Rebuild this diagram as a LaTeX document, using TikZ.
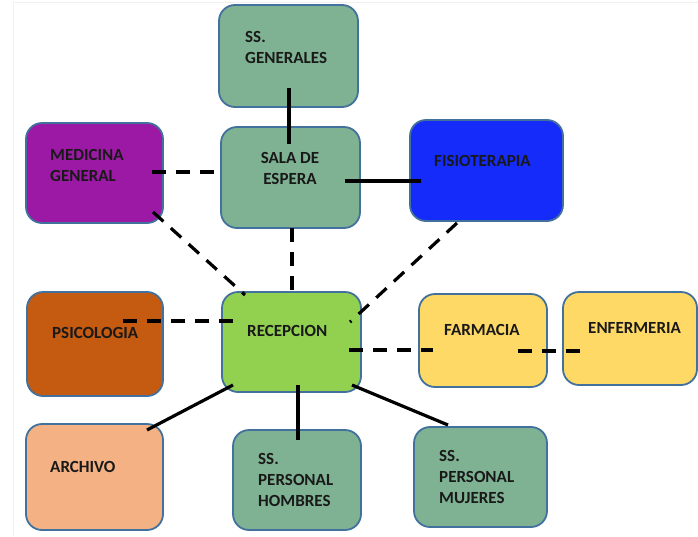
\documentclass[tikz,border=0pt]{standalone}
\usepackage{fontspec}
\setmainfont{Carlito}
\usetikzlibrary{calc}
\definecolor{borde}{HTML}{41719C}
\definecolor{verde}{HTML}{7EB293}
\definecolor{lila}{HTML}{9B19A5}
\definecolor{azul}{HTML}{142BFA}
\definecolor{teja}{HTML}{C55A11}
\definecolor{lima}{HTML}{92D050}
\definecolor{oro}{HTML}{FFD966}
\definecolor{melon}{HTML}{F4B183}
\tikzset{
  caja/.style={draw=borde,line width=1.8pt,rounded corners=16pt,inner sep=0pt},
  rot/.style={inner sep=0pt,align=left,text=black!90,font=\fontsize{17}{21}\selectfont\bfseries},
  solida/.style={line width=3.2pt},
  discont/.style={line width=3.2pt,dash pattern=on 14pt off 10pt},
}
\begin{document}
\begin{tikzpicture}[x=1pt,y=-1pt]
  \useasboundingbox (0,0) rectangle (698,536);
  \draw[gray!12,line width=0.8pt] (13,536) -- (13,2) -- (698,2);
  % cajas
  \node[caja,fill=verde,minimum width=139pt,minimum height=102pt] (gen) at (288.5,56) {};
  \node[caja,fill=verde,minimum width=139pt,minimum height=101pt] (sala) at (290.5,177.5) {};
  \node[caja,fill=lila,minimum width=137pt,minimum height=100pt] (med) at (94.5,173) {};
  \node[caja,fill=azul,minimum width=153pt,minimum height=101pt] (fisio) at (486.5,170.5) {};
  \node[caja,fill=teja,minimum width=136pt,minimum height=104pt] (psico) at (95,344) {};
  \node[caja,fill=lima,minimum width=139pt,minimum height=100pt] (recep) at (291.5,342) {};
  \node[caja,fill=oro,minimum width=128pt,minimum height=93pt] (farm) at (483,340.5) {};
  \node[caja,fill=oro,minimum width=134pt,minimum height=93pt] (enf) at (630,338.5) {};
  \node[caja,fill=melon,minimum width=137pt,minimum height=106pt] (arch) at (94.5,477) {};
  \node[caja,fill=verde,minimum width=128pt,minimum height=100pt] (hom) at (297,480) {};
  \node[caja,fill=verde,minimum width=133pt,minimum height=100pt] (muj) at (480.5,477) {};
  % textos (base = ultima linea)
  \node[rot,anchor=base west] (gen-t) at (245,63) {SS.\\GENERALES};
  \node[rot,anchor=base,align=center] (sala-t) at (290,184) {SALA DE\\ESPERA};
  \node[rot,anchor=base west] (med-t) at (50,181) {MEDICINA\\GENERAL};
  \node[rot,anchor=base west] (fisio-t) at (434,166) {FISIOTERAPIA};
  \node[rot,anchor=base west] (psico-t) at (52,338) {PSICOLOGIA};
  \node[rot,anchor=base west] (recep-t) at (247,336) {RECEPCION};
  \node[rot,anchor=base west] (farm-t) at (444,335) {FARMACIA};
  \node[rot,anchor=base west] (enf-t) at (588,333) {ENFERMERIA};
  \node[rot,anchor=base west] (arch-t) at (50,472) {ARCHIVO};
  \node[rot,anchor=base west] (hom-t) at (258,506) {SS.\\PERSONAL\\HOMBRES};
  \node[rot,anchor=base west] (muj-t) at (439,503) {SS.\\PERSONAL\\MUJERES};
  % conexiones
  \draw[solida] ($(gen)+(0.5,32)$) -- ($(sala)+(-1.5,-33.5)$);
  \draw[discont] ($(med)+(57.5,-1)$) -- ($(sala)+(-68.5,-5.5)$);
  \draw[solida] ($(sala)+(54.5,3.5)$) -- ($(fisio)+(-65.5,10.5)$);
  \draw[discont] ($(sala)+(1.5,50.5)$) -- ($(recep)+(0.5,-47)$);
  \draw[discont] ($(med)+(58.5,39)$) -- ($(recep)+(-46.5,-47)$);
  \draw[discont] ($(fisio)+(-29.5,52.5)$) -- ($(recep)+(58.5,-20)$);
  \draw[discont] ($(psico)+(28,-23)$) -- ($(recep)+(-48.5,-21)$);
  \draw[discont] ($(recep)+(57.5,8)$) -- ($(farm)+(-50,9.5)$);
  \draw[discont] ($(farm)+(35,10.5)$) -- ($(enf)+(-48,12.5)$);
  \draw[solida] ($(recep)+(-58.5,43)$) -- ($(arch)+(52.5,-47)$);
  \draw[solida] ($(recep)+(6.5,43)$) -- ($(hom)+(1,-40)$);
  \draw[solida] ($(recep)+(60.5,43)$) -- ($(muj)+(-32.5,-52)$);
\end{tikzpicture}
\end{document}
